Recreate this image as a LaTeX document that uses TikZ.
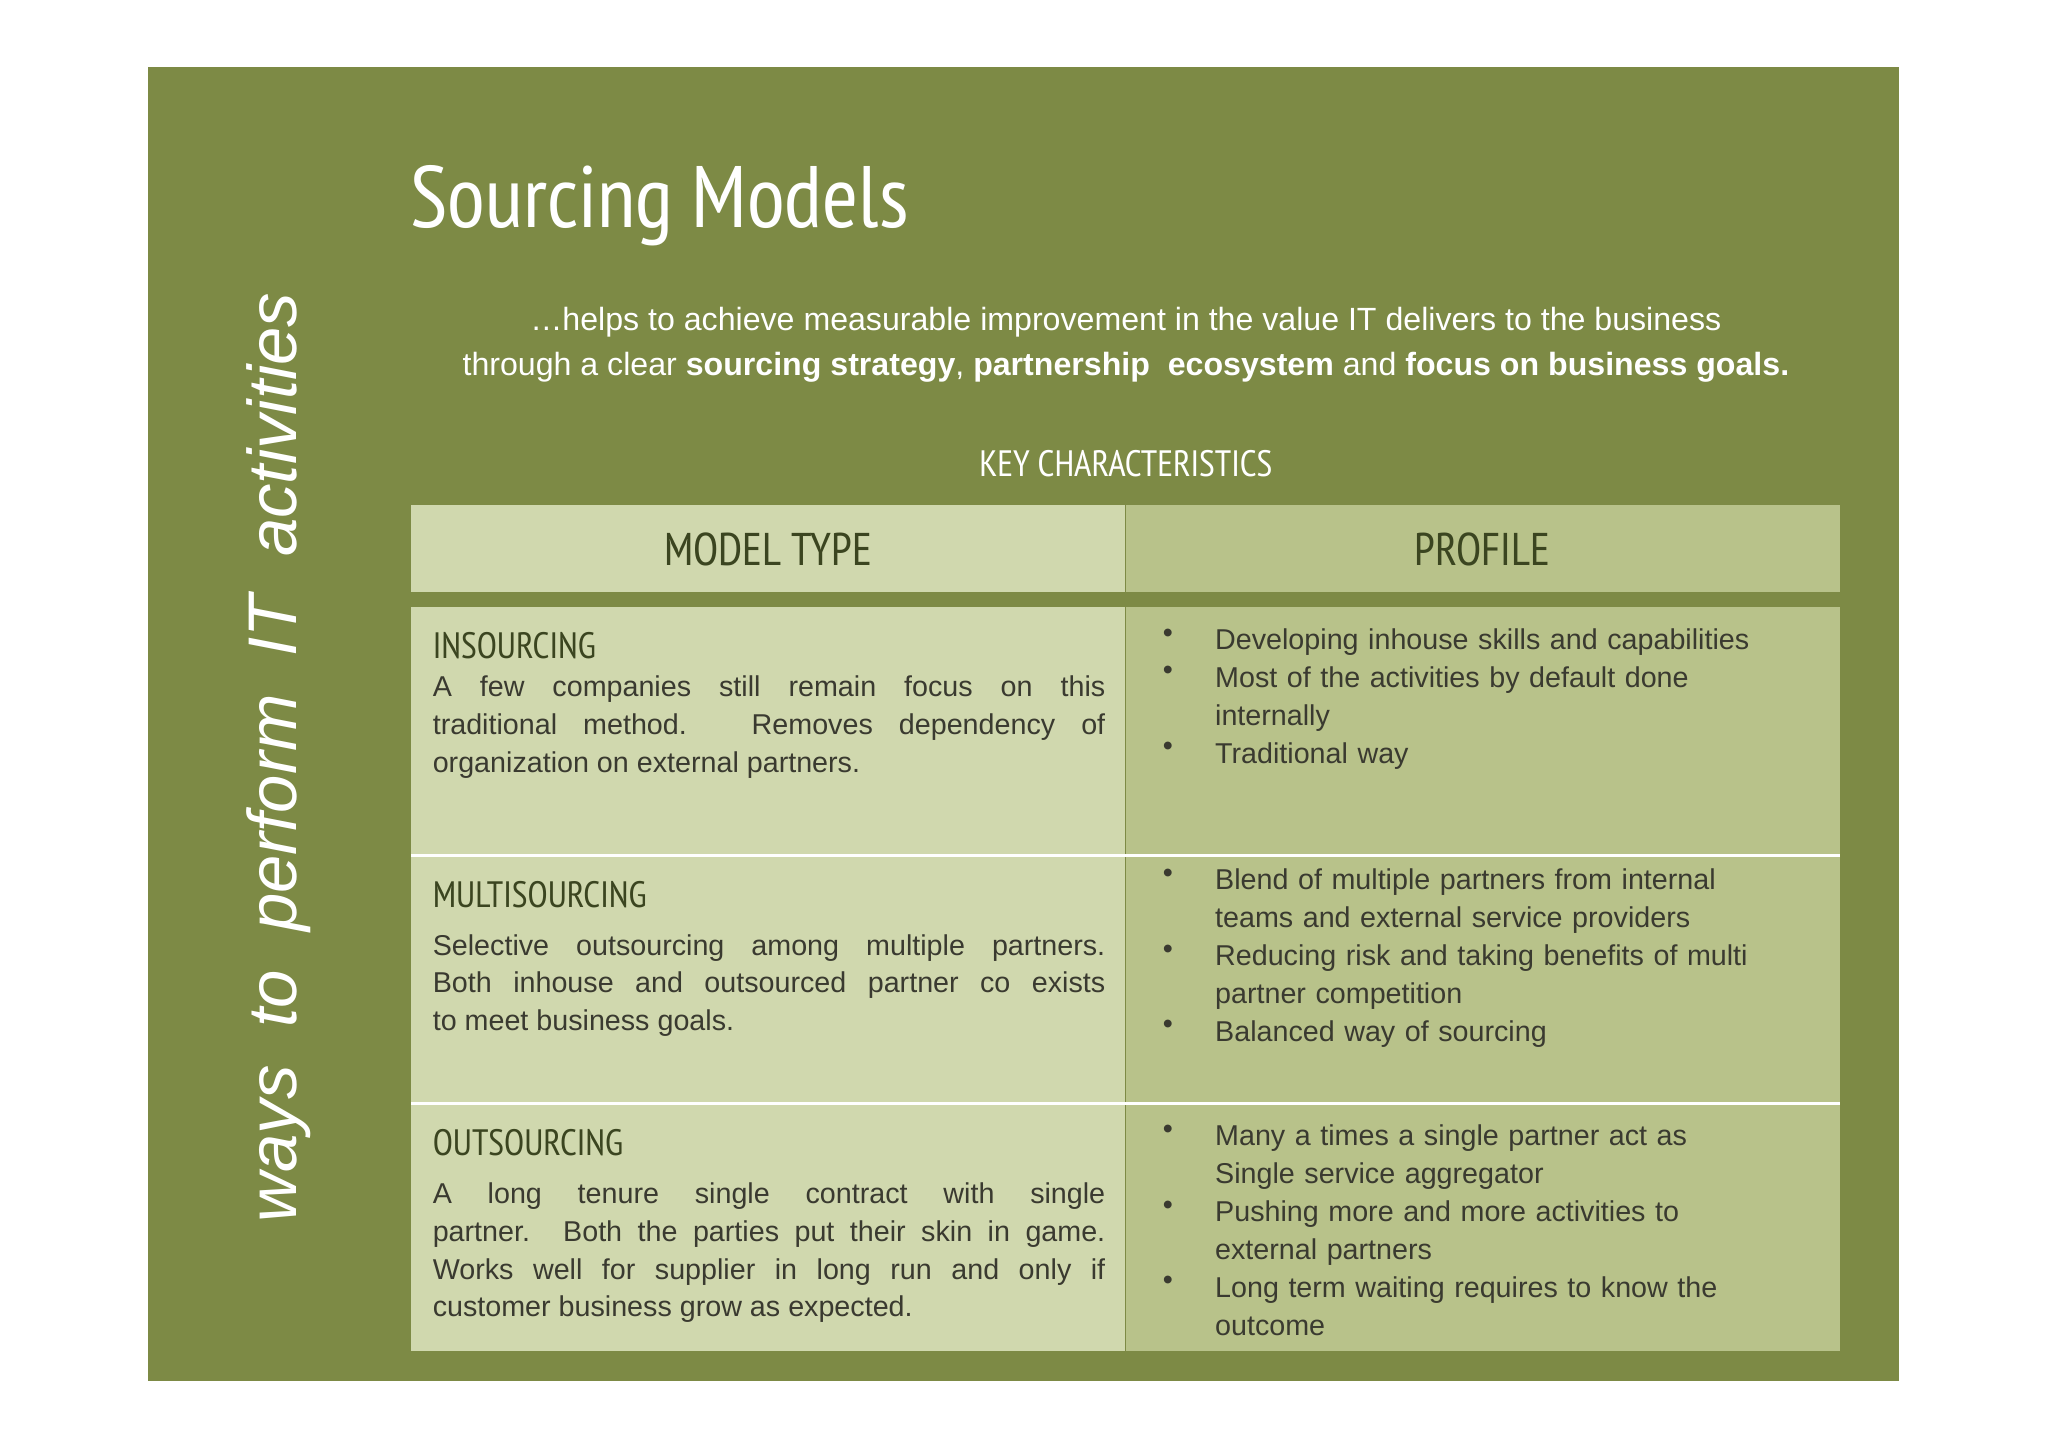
\documentclass[tikz,border=0pt]{standalone}
\usepackage{fontspec}
\setmainfont{Liberation Sans}
\newfontfamily\cond{PT Sans Narrow}
\newfontfamily\condb{PT Sans}
\definecolor{olive}{HTML}{7D8A45}
\definecolor{lcol}{HTML}{D0D8AE}
\definecolor{rcol}{HTML}{B8C28A}
\definecolor{dtext}{HTML}{3A3A30}
\definecolor{htext}{HTML}{3B4520}
\tikzset{
 hd/.style={font=\cond\fontsize{16}{18}\selectfont,text=htext,anchor=base west,inner sep=0},
 body/.style={font=\fontsize{12.5}{16.5}\selectfont,text=dtext,anchor=north west,inner sep=0,text width=10.3cm,align=justify},
 bul/.style={font=\fontsize{12.5}{16.5}\selectfont,text=dtext,anchor=north west,inner sep=0,text width=9.3cm,align=left},
 dot/.style={font=\fontsize{12.5}{16.5}\selectfont,text=dtext,anchor=north west,inner sep=0},
}
\begin{document}
\begin{tikzpicture}[x=0.02cm,y=-0.02cm]
\useasboundingbox (0,0) rectangle (1568,1108);
\fill[white] (0,0) rectangle (1568,1108);
\fill[olive] (113,51) rectangle (1454,1057);
\node[font=\cond\fontsize{38}{40}\selectfont,text=white,anchor=base west,inner sep=0] (title) at (314,174) {Sourcing Models};
\node[font=\fontsize{14}{19.5}\selectfont,text=white,align=center,inner sep=0] (sub) at (862,264) {\ldots helps to\ achieve\ measurable improvement in the value IT delivers to the business\\through a clear \textbf{sourcing strategy}, \textbf{partnership\ \ ecosystem} and \textbf{focus on business goals.}};
\node[font=\cond\fontsize{16}{18}\selectfont,text=white,inner sep=0] (kc) at (862,355) {KEY CHARACTERISTICS};
% header
\fill[lcol] (315,387) rectangle (861,453);
\fill[rcol] (862,387) rectangle (1409,453);
\node[font=\cond\fontsize{20}{22}\selectfont,text=htext] (mt) at (588,421) {MODEL TYPE};
\node[font=\cond\fontsize{20}{22}\selectfont,text=htext] (pf) at (1135,421) {PROFILE};
% rows
\fill[lcol] (315,465) rectangle (861,1034);
\fill[rcol] (862,465) rectangle (1409,1034);
\draw[white,line width=1.5pt] (315,655) -- (1409,655);
\draw[white,line width=1.5pt] (315,845) -- (1409,845);
% row 1
\node[hd] (h1) at (331,504) {INSOURCING};
\node[body] (b1) at (331,517) {A few companies still remain focus on this\linebreak traditional method. Removes dependency of\linebreak organization\ on external\ partners.};
\foreach \y in {481,510,568} \node[dot] at (890,\y) {•};
\node[bul] (p1) at (930,481) {Developing inhouse skills and capabilities\\Most of the activities by default done\\internally\\Traditional way};
% row 2
\node[hd] (h2) at (331,695) {MULTISOURCING};
\node[body] (b2) at (331,715) {Selective outsourcing among multiple partners.\linebreak Both inhouse and outsourced partner co exists\linebreak to meet business goals.};
\foreach \y in {665,723,781} \node[dot] at (890,\y) {•};
\node[bul] (p2) at (930,665) {Blend of multiple partners from internal\\teams and external service providers\\Reducing risk and taking benefits of multi\\partner competition\\Balanced\ way of sourcing};
% row 3
\node[hd] (h3) at (331,885) {OUTSOURCING};
\node[body] (b3) at (331,905) {A long tenure single contract with single\linebreak partner. Both the parties put their skin in game.\linebreak Works well for supplier in long run and only if\linebreak customer business grow as expected.};
\foreach \y in {861,919,977} \node[dot] at (890,\y) {•};
\node[bul] (p3) at (930,861) {Many a times a single partner act as\\Single service aggregator\\Pushing more and more activities to\\external partners\\Long term waiting requires to know the\\outcome};
% vertical
\node[rotate=90,font=\itshape\fontsize{30}{32}\selectfont,text=white,inner sep=0] (side) at (213,580) {ways\ \ to\ \ perform\ \ IT\ \ activities};
\end{tikzpicture}
\end{document}
